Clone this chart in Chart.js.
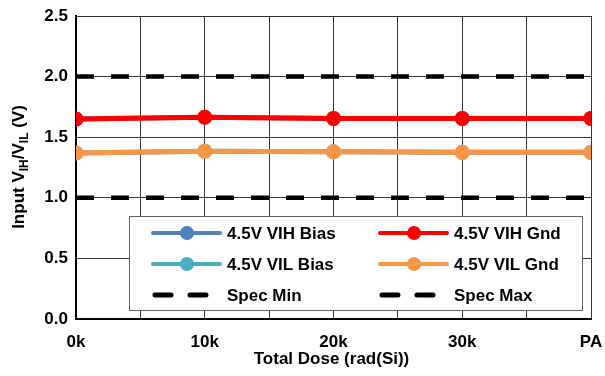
<!DOCTYPE html>
<html>
<head>
<meta charset="utf-8">
<script src="https://cdn.jsdelivr.net/npm/chart.js@4"></script>
<style>
  html, body { margin: 0; padding: 0; background: #fff; }
  #wrap { width: 605px; height: 376px; position: relative; }
</style>
</head>
<body>
<div id="wrap"><canvas id="tidChart"></canvas></div>
<script>
// Data
const doseLabels = ['0k', '10k', '20k', '30k', 'PA'];
const doseSteps = [0, 10, 20, 30, 40];
const vihBias = [1.65, 1.665, 1.655, 1.655, 1.655];
const vilBias = [1.37, 1.385, 1.38, 1.375, 1.375];
const vihGnd = [1.65, 1.665, 1.655, 1.655, 1.655];
const vilGnd = [1.37, 1.385, 1.38, 1.375, 1.375];
const specMin = [1.0, 1.0, 1.0, 1.0, 1.0];
const specMax = [2.0, 2.0, 2.0, 2.0, 2.0];
const yTicks = [0, 0.5, 1.0, 1.5, 2.0, 2.5];

const FONT = "'Liberation Sans', Arial, sans-serif";

function pts(values) {
    return values.map((v, i) => ({ x: doseSteps[i], y: v }));
}

function seriesLine(label, values, color, order) {
    return {
        label: label,
        data: pts(values),
        borderColor: color,
        backgroundColor: color,
        borderWidth: 5,
        pointRadius: 7.5,
        pointBorderWidth: 0,
        pointBackgroundColor: color,
        order: order
    };
}

function specLine(label, values) {
    return {
        label: label,
        data: pts(values),
        borderColor: '#000000',
        borderWidth: 4.5,
        borderDash: [18, 17],
        pointRadius: 0,
        order: 3,
        dashed: true
    };
}

// Legend drawn inside the plot, two columns like the original
const boxLegend = {
    id: 'boxLegend',
    afterDatasetsDraw(chart) {
        const ctx = chart.ctx;
        const area = chart.chartArea;
        const x0 = area.left + 53, y0 = area.top + 200;
        const w = 453, h = 94;
        ctx.save();
        ctx.fillStyle = '#ffffff';
        ctx.fillRect(x0, y0, w, h);
        ctx.strokeStyle = '#606060';
        ctx.lineWidth = 1;
        ctx.strokeRect(x0 + 0.5, y0 + 0.5, w, h);

        const layout = [
            { ds: 2, col: 0, row: 0 }, { ds: 0, col: 1, row: 0 },
            { ds: 3, col: 0, row: 1 }, { ds: 1, col: 1, row: 1 },
            { ds: 4, col: 0, row: 2 }, { ds: 5, col: 1, row: 2 }
        ];
        layout.forEach(item => {
            const d = chart.data.datasets[item.ds];
            const lx = x0 + 24 + item.col * 227;
            const ly = y0 + 17 + item.row * 31;
            ctx.strokeStyle = d.borderColor;
            if (d.dashed) {
                ctx.lineWidth = 5;
                ctx.lineCap = 'round';
                ctx.beginPath();
                ctx.moveTo(lx + 2, ly); ctx.lineTo(lx + 18, ly);
                ctx.moveTo(lx + 37, ly); ctx.lineTo(lx + 53, ly);
                ctx.stroke();
            } else {
                ctx.lineWidth = 4;
                ctx.lineCap = 'round';
                ctx.beginPath();
                ctx.moveTo(lx, ly); ctx.lineTo(lx + 67, ly);
                ctx.stroke();
                ctx.fillStyle = d.borderColor;
                ctx.beginPath();
                ctx.arc(lx + 34, ly, 7, 0, Math.PI * 2);
                ctx.fill();
            }
            ctx.fillStyle = '#000000';
            ctx.font = 'bold 17px ' + FONT;
            ctx.textBaseline = 'middle';
            ctx.textAlign = 'left';
            ctx.fillText(d.label, lx + 74, ly + 1);
        });
        ctx.restore();
    }
};

// Axis titles (the y title carries subscripts)
const axisTitles = {
    id: 'axisTitles',
    afterDraw(chart) {
        const ctx = chart.ctx;
        const area = chart.chartArea;
        ctx.save();
        ctx.fillStyle = '#000000';
        ctx.textBaseline = 'alphabetic';
        ctx.font = 'bold 17px ' + FONT;
        ctx.textAlign = 'center';
        ctx.fillText('Total Dose (rad(Si))', (area.left + area.right) / 2 - 2, 364);

        const parts = [
            { t: 'Input V', sub: false }, { t: 'IH', sub: true },
            { t: '/V', sub: false }, { t: 'IL', sub: true },
            { t: ' (V)', sub: false }
        ];
        const big = 'bold 17px ' + FONT, small = 'bold 12px ' + FONT;
        let total = 0;
        parts.forEach(p => { ctx.font = p.sub ? small : big; total += ctx.measureText(p.t).width; });
        ctx.translate(24, 167);
        ctx.rotate(-Math.PI / 2);
        let x = -total / 2;
        ctx.textAlign = 'left';
        parts.forEach(p => {
            ctx.font = p.sub ? small : big;
            ctx.fillText(p.t, x, p.sub ? 4 : 0);
            x += ctx.measureText(p.t).width;
        });
        ctx.restore();
    }
};

new Chart(document.getElementById('tidChart'), {
    type: 'line',
    data: {
        datasets: [
            seriesLine('4.5V VIH Gnd', vihGnd, '#ff0000', 1),
            seriesLine('4.5V VIL Gnd', vilGnd, '#f79646', 1),
            seriesLine('4.5V VIH Bias', vihBias, '#4f81bd', 2),
            seriesLine('4.5V VIL Bias', vilBias, '#4bacc6', 2),
            specLine('Spec Min', specMin),
            specLine('Spec Max', specMax)
        ]
    },
    options: {
        responsive: true,
        maintainAspectRatio: false,
        animation: false,
        layout: { padding: { top: 16, right: 14, left: 0, bottom: 0 } },
        plugins: {
            legend: { display: false },
            tooltip: { enabled: false }
        },
        scales: {
            x: {
                type: 'linear',
                min: 0,
                max: 40,
                afterFit: s => {
                    s.height = 57;
                    s.paddingLeft = 0;
                    s.paddingRight = 0;
                },
                afterBuildTicks: s => {
                    const t = [];
                    for (let v = 0; v <= 40; v += 5) t.push({ value: v });
                    s.ticks = t;
                },
                ticks: {
                    autoSkip: false,
                    maxRotation: 0,
                    padding: 13,
                    color: '#000000',
                    font: { family: FONT, size: 17, weight: 'bold' },
                    callback: v => {
                        const i = doseSteps.indexOf(v);
                        return i >= 0 ? doseLabels[i] : '';
                    }
                },
                grid: { color: '#333333', lineWidth: 1, drawTicks: false },
                border: { color: '#000000', width: 2 }
            },
            y: {
                min: 0,
                max: 2.5,
                afterFit: s => {
                    s.width = 76;
                    s.paddingTop = 0;
                    s.paddingBottom = 0;
                },
                afterBuildTicks: s => { s.ticks = yTicks.map(v => ({ value: v })); },
                ticks: {
                    padding: 8,
                    color: '#000000',
                    font: { family: FONT, size: 17, weight: 'bold' },
                    callback: v => v.toFixed(1)
                },
                grid: { color: '#333333', lineWidth: 1, drawTicks: false },
                border: { color: '#000000', width: 2 }
            }
        }
    },
    plugins: [boxLegend, axisTitles]
});
</script>
</body>
</html>
